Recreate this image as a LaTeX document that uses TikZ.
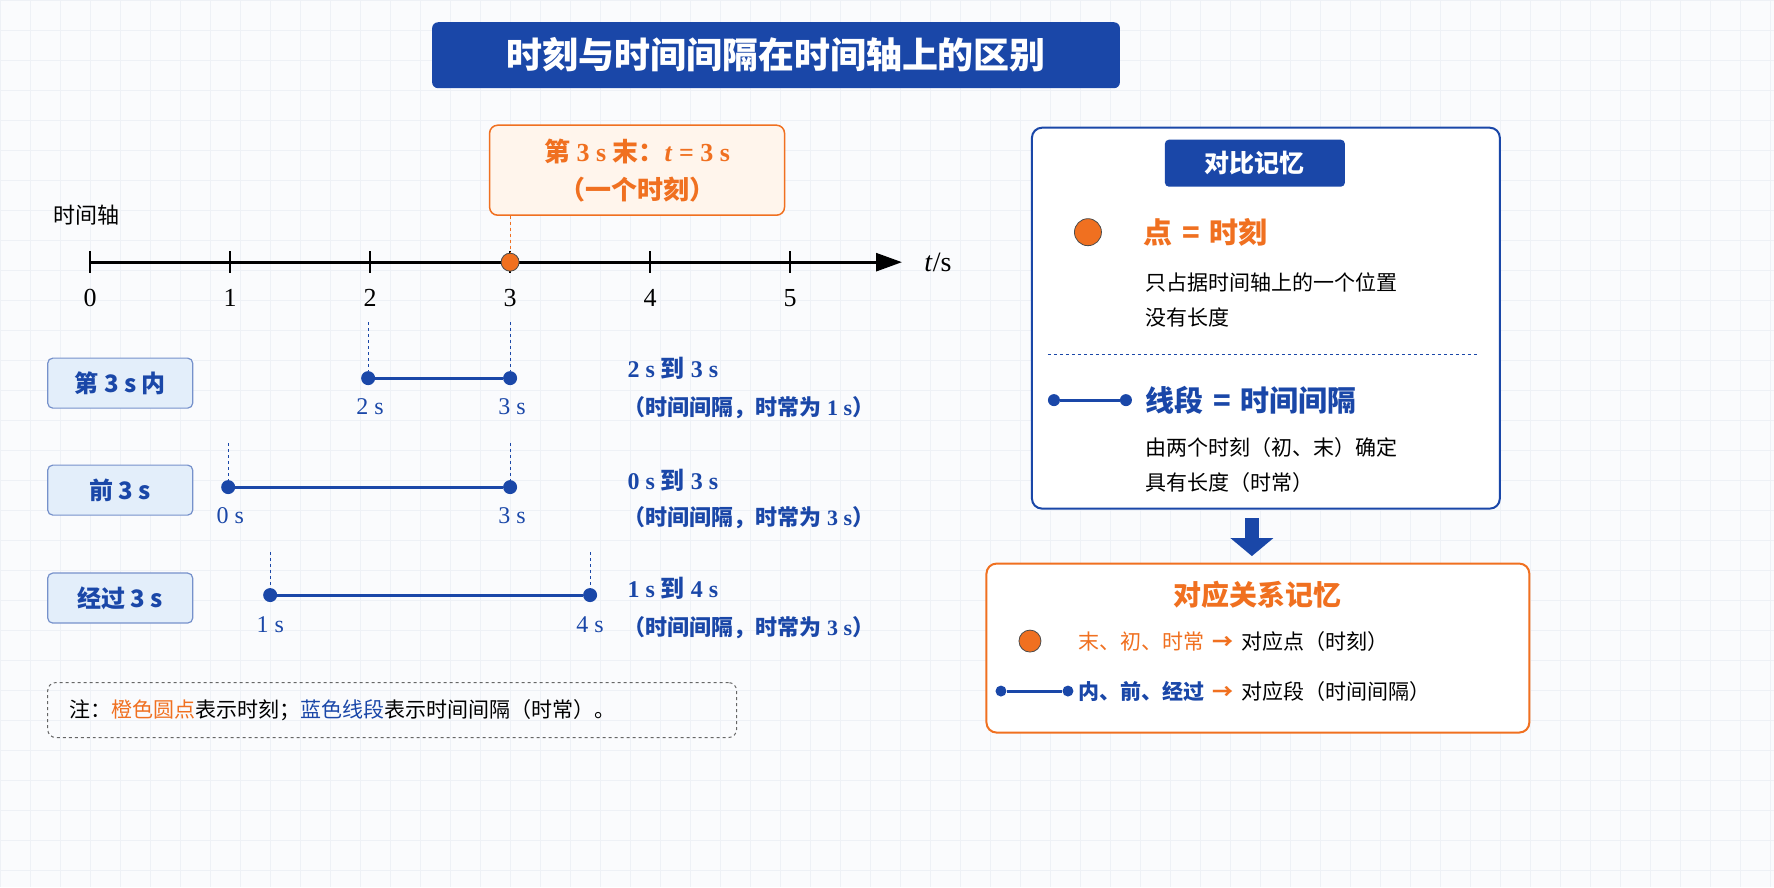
\documentclass[tikz,border=0pt]{standalone}
\usepackage{fontspec}
\setmainfont{Liberation Serif}
\newfontfamily\cjk{Noto Sans CJK SC}
\usetikzlibrary{arrows.meta}
\definecolor{dblue}{HTML}{1A47A8}
\definecolor{lblue}{HTML}{E3EEFA}
\definecolor{org}{HTML}{F07020}
\definecolor{lorg}{HTML}{FFF5EC}
\definecolor{bg}{HTML}{FAFBFD}
\definecolor{gridc}{HTML}{EEF1F6}
\newcommand{\F}[1]{\fontsize{#1}{#1}\selectfont}
\begin{document}
\begin{tikzpicture}[x=1pt,y=-1pt,
  lab/.style={draw=dblue!60,fill=lblue,rounded corners=5,line width=1.2,minimum width=145,minimum height=50,text=dblue,font=\F{24}\bfseries\cjk},
  seg/.style={dblue,line width=3},
  dot/.style={circle,fill=dblue,inner sep=0,minimum size=14},
  odot/.style={circle,fill=org,draw=black!70,line width=0.8,inner sep=0,minimum size=#1},
  dsh/.style={dblue,dashed,line width=0.9},
  num/.style={font=\F{26}},
  bt/.style={text=dblue,font=\F{24}\bfseries,anchor=west},
  body/.style={font=\F{21}\cjk,anchor=west}]
\fill[bg] (0,0) rectangle (1774,887);
\foreach \x in {0,30,...,1774} \draw[gridc,line width=0.5] (\x,0)--(\x,887);
\foreach \y in {0,30,...,887} \draw[gridc,line width=0.5] (0,\y)--(1774,\y);
\useasboundingbox (0,0) rectangle (1774,887);
% title
\node[fill=dblue,rounded corners=6,minimum width=688,minimum height=66,text=white,font=\F{36}\bfseries\cjk] (title) at (776,55) {时刻与时间间隔在时间轴上的区别};
% axis
\node[font=\F{22}\cjk] (axl) at (86,215) {时间轴};
\coordinate (a0) at (90,262); \coordinate (aend) at (902,262);
\draw[line width=2.8,-{Triangle[length=26,width=18]}] (a0)--(aend);
\foreach \i in {0,...,5}{
  \draw[line width=2.4] (90+140*\i,251)--(90+140*\i,273);
  \node[num] (n\i) at (90+140*\i,298) {\i};}
\node[font=\F{28}] (ts) at (938,262) {\textit{t}/s};
% top orange callout
\node[draw=org,fill=lorg,rounded corners=8,line width=1.5,minimum width=295,minimum height=90,align=center,text=org,font=\F{26}\bfseries] (call) at (637,170)
 {{\cjk 第} 3 s {\cjk 末：}\textit{t} = 3 s\\[12pt]{\cjk （一个时刻）}};
\node[odot=18] (p3) at (510,262) {};
\draw[org,dashed,line width=1] (call.south -| p3)--(p3.north);
% row 1
\node[lab] (r1) at (120,383) {第 3 s 内};
\node[dot] (r1a) at (368,378) {}; \node[dot] (r1b) at (510,378) {};
\draw[seg] (r1a)--(r1b);
\draw[dsh] (368,322)--(r1a); \draw[dsh] (510,322)--(r1b);
\node[num,text=dblue,font=\F{24}] (r1l) at (370,407) {2 s};
\node[num,text=dblue,font=\F{24}] (r1r) at (512,407) {3 s};
\node[bt] (r1t) at (624,368) {2 s {\cjk\bfseries 到} 3 s};
\node[bt,font=\F{22}\bfseries] (r1u) at (620,408) {{\cjk （时间间隔，时常为} 1 s{\cjk ）}};
% row 2
\node[lab] (r2) at (120,490) {前 3 s};
\node[dot] (r2a) at (228,487) {}; \node[dot] (r2b) at (510,487) {};
\draw[seg] (r2a)--(r2b);
\draw[dsh] (228,443)--(r2a); \draw[dsh] (510,443)--(r2b);
\node[num,text=dblue,font=\F{24}] (r2l) at (230,516) {0 s};
\node[num,text=dblue,font=\F{24}] (r2r) at (512,516) {3 s};
\node[bt] (r2t) at (624,480) {0 s {\cjk\bfseries 到} 3 s};
\node[bt,font=\F{22}\bfseries] (r2u) at (620,518) {{\cjk （时间间隔，时常为} 3 s{\cjk ）}};
% row 3
\node[lab] (r3) at (120,598) {经过 3 s};
\node[dot] (r3a) at (270,595) {}; \node[dot] (r3b) at (590,595) {};
\draw[seg] (r3a)--(r3b);
\draw[dsh] (270,552)--(r3a); \draw[dsh] (590,552)--(r3b);
\node[num,text=dblue,font=\F{24}] (r3l) at (270,625) {1 s};
\node[num,text=dblue,font=\F{24}] (r3r) at (590,625) {4 s};
\node[bt] (r3t) at (624,588) {1 s {\cjk\bfseries 到} 4 s};
\node[bt,font=\F{22}\bfseries] (r3u) at (620,628) {{\cjk （时间间隔，时常为} 3 s{\cjk ）}};
% note
\node[draw=black!60,dashed,rounded corners=8,line width=1,minimum width=689,minimum height=55] (note) at (392,710) {};
\node[anchor=west,font=\F{21}\cjk] (notet) at (66,710)
 {注：\textcolor{org}{橙色圆点}表示时刻；\textcolor{dblue}{蓝色线段}表示时间间隔（时常）。};
% right panel
\node[draw=dblue,fill=white,rounded corners=10,line width=2,minimum width=468,minimum height=381] (panel) at (1266,318) {};
\node[fill=dblue,rounded corners=4,minimum width=180,minimum height=47,text=white,font=\F{25}\bfseries\cjk] (tab) at (1255,163) {对比记忆};
\node[odot=27] (pd) at (1088,232) {};
\node[anchor=west,text=org,font=\F{29}\bfseries\cjk] (pt) at (1140,232) {点\,\,=\,\,时刻};
\node[body] (pb1) at (1142,282) {只占据时间轴上的一个位置};
\node[body] (pb2) at (1142,317) {没有长度};
\draw[dsh,dashed,line width=1] (1048,354)--(1478,354);
\node[dot,minimum size=12] (sa) at (1054,400) {}; \node[dot,minimum size=12] (sb) at (1126,400) {};
\draw[seg] (sa)--(sb);
\node[anchor=west,text=dblue,font=\F{29}\bfseries\cjk] (st) at (1142,400) {线段\,\,=\,\,时间间隔};
\node[body] (sb1) at (1142,447) {由两个时刻（初、末）确定};
\node[body] (sb2) at (1142,482) {具有长度（时常）};
% down arrow
\coordinate (da1) at (1252,518); \coordinate (da2) at (1252,556);
\draw[dblue,line width=14,-{Triangle[length=18,width=42]}] (da1)--(da2);
% bottom box
\node[draw=org,fill=white,rounded corners=10,line width=2,minimum width=543,minimum height=169] (bb) at (1258,648) {};
\node[text=org,font=\F{28}\bfseries\cjk] (bt) at (1258,595) {对应关系记忆};
\node[odot=22] (bd) at (1030,641) {};
\node[anchor=west,font=\F{21}\cjk] (bl1) at (1075,641) {\textcolor{org}{末、初、时常 \,\textbf{→}}\, 对应点（时刻）};
\node[dot,minimum size=11] (ba) at (1001,691) {}; \node[dot,minimum size=11] (bb2) at (1068,691) {};
\draw[seg] (ba)--(bb2);
\node[anchor=west,font=\F{21}\cjk] (bl2) at (1075,691) {\textcolor{dblue}{\textbf{内、前、经过}}\, \textcolor{org}{\textbf{→}}\, 对应段（时间间隔）};
\end{tikzpicture}
\end{document}
